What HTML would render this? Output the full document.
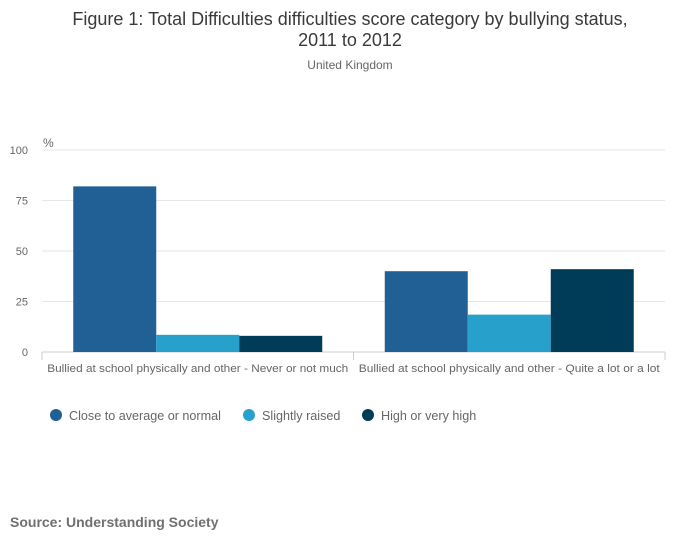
<!DOCTYPE html>
<html><head><meta charset="utf-8"><style>
body{margin:0;background:#fff;width:700px;height:549px;overflow:hidden;font-family:"Liberation Sans",sans-serif;}
</style></head><body>
<svg width="700" height="549" xmlns="http://www.w3.org/2000/svg">
<text x="350" y="25" text-anchor="middle" font-size="18" fill="#3a3a3a">Figure 1: Total Difficulties difficulties score category by bullying status,</text>
<text x="350" y="46" text-anchor="middle" font-size="18" fill="#3a3a3a">2011 to 2012</text>
<text x="350" y="69" text-anchor="middle" font-size="12" fill="#666">United Kingdom</text>
<text x="43" y="147" font-size="12" fill="#666">%</text>
<g id="grid"></g>
<g id="bars"></g>
<g id="xaxis"></g>
<g id="legend"></g>
<text x="10" y="527" font-size="14" font-weight="bold" fill="#707070">Source: Understanding Society</text>
</svg>
<script>
const categories=["Bullied at school physically and other - Never or not much","Bullied at school physically and other - Quite a lot or a lot"];
const seriesNames=["Close to average or normal","Slightly raised","High or very high"];
const closeToAverage=[82,40];
const slightlyRaised=[8.5,18.5];
const highOrVeryHigh=[8,41];
const yTicks=[0,25,50,75,100];
const colors=["#206095","#27a0cc","#003c57"];
const NS="http://www.w3.org/2000/svg";
const x0=42,x1=665,y0=352,y100=150;
const y=v=>y0-(v/100)*(y0-y100);
const bandW=(x1-x0)/categories.length;
const grid=document.getElementById('grid');
function mk(t,a){const e=document.createElementNS(NS,t);for(const k in a)e.setAttribute(k,a[k]);return e;}
yTicks.forEach(t=>{
 const l=mk('line',{x1:x0,x2:x1,y1:y(t),y2:y(t),stroke:t===0?'#ccc':'#e6e6e6'});
 
 
 grid.appendChild(l);
 const tx=mk('text',{x:28,y:y(t)+4,'text-anchor':'end','font-size':11,fill:'#666'});
 tx.textContent=t;
 
 
 grid.appendChild(tx);
});
const series=[closeToAverage,slightlyRaised,highOrVeryHigh];
const bars=document.getElementById('bars');
const barW=83;
const xa=document.getElementById('xaxis');
categories.forEach((c,i)=>{
 const start=x0+i*bandW+(bandW-3*barW)/2;
 series.forEach((s,j)=>{
  const r=mk('rect',{x:start+j*barW,y:y(s[i]),width:barW,height:y0-y(s[i]),fill:colors[j]});
  
  
  bars.appendChild(r);
 });
 const tk=mk('line',{x1:x0+i*bandW,x2:x0+i*bandW,y1:y0,y2:y0+8,stroke:'#ccc'});
 
 
 xa.appendChild(tk);
 const lb=mk('text',{x:x0+i*bandW+bandW/2,y:372,'text-anchor':'middle','font-size':11,fill:'#666',textLength:301,lengthAdjust:'spacingAndGlyphs'});
 lb.textContent=c;
 
 
 xa.appendChild(lb);
});
const tkE=mk('line',{x1:x1,x2:x1,y1:y0,y2:y0+8,stroke:'#ccc'});


xa.appendChild(tkE);
const lg=document.getElementById('legend');
const lx=[56,249,368];
seriesNames.forEach((n,j)=>{
 const g=mk('g',{});
 
 
 g.appendChild(mk('circle',{cx:lx[j],cy:415,r:6,fill:colors[j]}));
 const t=mk('text',{x:lx[j]+13,y:420,'font-size':12.6,fill:'#666'});
 t.textContent=n;
 g.appendChild(t);
 lg.appendChild(g);
});
</script>
</body></html>
